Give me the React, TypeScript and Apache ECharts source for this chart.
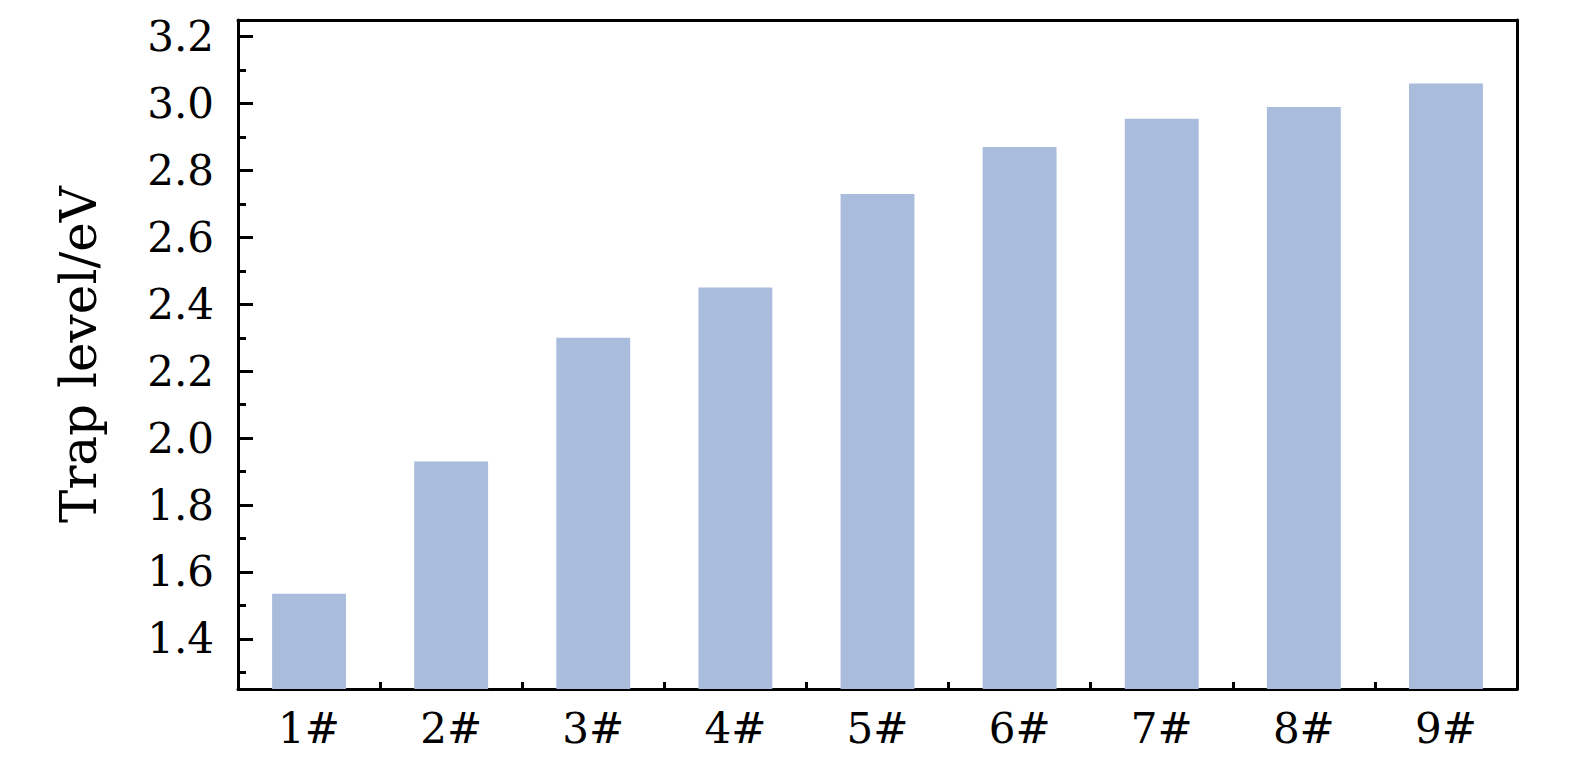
import React, { useEffect, useRef } from "react";
import * as echarts from "echarts";

const categories = ["1#", "2#", "3#", "4#", "5#", "6#", "7#", "8#", "9#"];
const trapLevels = [1.535, 1.93, 2.3, 2.45, 2.73, 2.87, 2.955, 2.99, 3.06];
const yMajorTicks = [1.4, 1.6, 1.8, 2.0, 2.2, 2.4, 2.6, 2.8, 3.0, 3.2];
const yMinorTicks = [1.3, 1.5, 1.7, 1.9, 2.1, 2.3, 2.5, 2.7, 2.9, 3.1];
const yAxisName = "Trap level/eV";

export default function App() {
  const ref = useRef<HTMLDivElement>(null);
  useEffect(() => {
    if (!ref.current) return;
    const chart = echarts.init(ref.current, null, { renderer: "svg" });
    const font = "'DejaVu Serif', 'Liberation Serif', serif";
    const black = { color: "#000", width: 3 };
    chart.setOption({
      animation: false,
      grid: { left: 238, top: 20, right: 58, bottom: 79 },
      xAxis: [
        {
          type: "category",
          data: categories,
          position: "bottom",
          axisLine: { show: true, lineStyle: black },
          axisTick: { show: true, inside: true, alignWithLabel: true, length: 14, lineStyle: black },
          axisLabel: { color: "#000", fontFamily: font, fontSize: 42, margin: 18 },
          splitLine: { show: false },
        },
        {
          type: "category",
          data: categories,
          position: "bottom",
          axisLine: { show: false },
          axisTick: { show: true, inside: true, length: 7, lineStyle: black },
          axisLabel: { show: false },
          splitLine: { show: false },
        },
        {
          type: "category",
          data: categories,
          position: "top",
          axisLine: { show: true, lineStyle: black },
          axisTick: { show: false },
          axisLabel: { show: false },
          splitLine: { show: false },
        },
      ],
      yAxis: [
        {
          type: "value",
          min: 1.25,
          max: 3.25,
          position: "left",
          name: yAxisName,
          nameLocation: "middle",
          nameGap: 134,
          nameTextStyle: { color: "#000", fontFamily: font, fontSize: 50 },
          axisLine: { show: true, lineStyle: black },
          axisTick: { show: true, inside: true, length: 15, lineStyle: black, customValues: yMajorTicks },
          axisLabel: {
            color: "#000",
            fontFamily: font,
            fontSize: 42,
            margin: 24,
            customValues: yMajorTicks,
            formatter: (v: number) => v.toFixed(1),
          },
          splitLine: { show: false },
        },
        {
          type: "value",
          min: 1.25,
          max: 3.25,
          position: "left",
          offset: 0,
          axisLine: { show: false },
          axisTick: { show: true, inside: true, length: 8, lineStyle: black, customValues: yMinorTicks },
          axisLabel: { show: false, customValues: yMinorTicks },
          splitLine: { show: false },
        },
        {
          type: "value",
          min: 1.25,
          max: 3.25,
          position: "right",
          axisLine: { show: true, lineStyle: black },
          axisTick: { show: false },
          axisLabel: { show: false },
          splitLine: { show: false },
        },
      ],
      series: [
        {
          type: "bar",
          data: trapLevels,
          xAxisIndex: 0,
          yAxisIndex: 0,
          barWidth: "52%",
          itemStyle: { color: "#aabcdc" },
        },
      ],
    });
    return () => chart.dispose();
  }, []);
  return <div ref={ref} style={{ width: 1575, height: 768, position: "absolute", left: 0, top: 0 }} />;
}
